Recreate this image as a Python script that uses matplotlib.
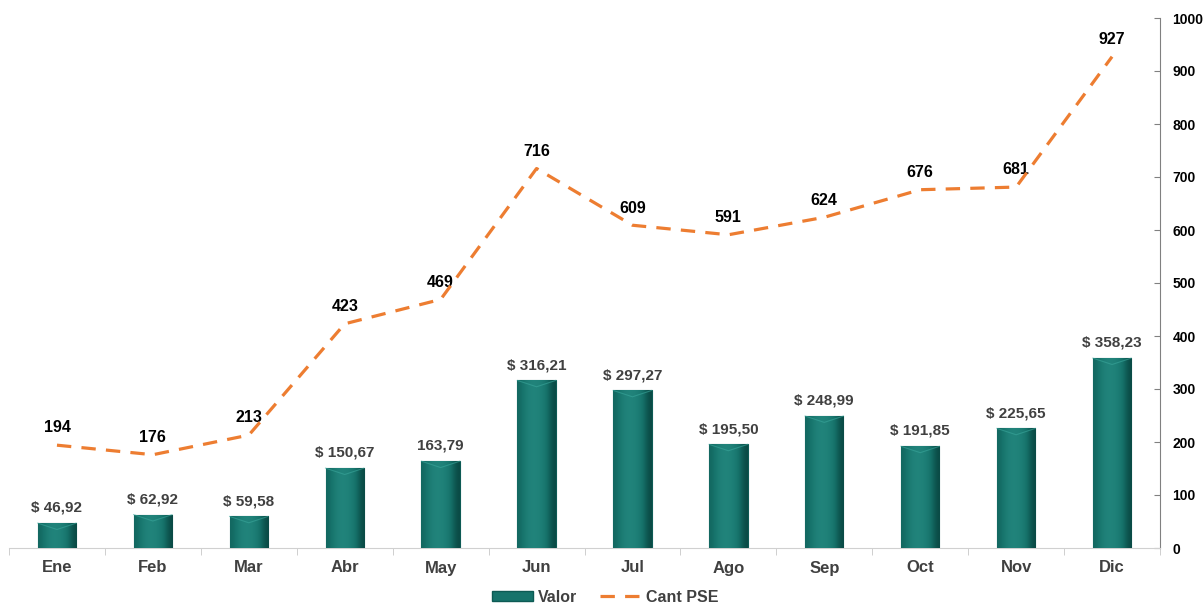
import numpy as np
import matplotlib.pyplot as plt
from matplotlib.patches import Patch
from matplotlib.lines import Line2D
from matplotlib.colors import LinearSegmentedColormap

plt.rcParams['font.family'] = ['Liberation Sans', 'DejaVu Sans']

meses = ["Ene", "Feb", "Mar", "Abr", "May", "Jun", "Jul", "Ago", "Sep", "Oct", "Nov", "Dic"]
valor = [46.92, 62.92, 59.58, 150.67, 163.79, 316.21, 297.27, 195.50, 248.99, 191.85, 225.65, 358.23]
valor_txt = ["$ 46,92", "$ 62,92", "$ 59,58", "$ 150,67", "163,79", "$ 316,21",
             "$ 297,27", "$ 195,50", "$ 248,99", "$ 191,85", "$ 225,65", "$ 358,23"]
cant_pse = [194, 176, 213, 423, 469, 716, 609, 591, 624, 676, 681, 927]

teal = "#16736b"
naranja = "#ED7D31"
gris = "#404040"

fig = plt.figure(figsize=(12.03, 6.04), dpi=100)
ax = fig.add_axes([9 / 1203, 56 / 604, 1151 / 1203, 530 / 604])

x = np.arange(len(meses))
bars = ax.bar(x, valor, width=0.40, color=teal, edgecolor="#0d5a54", linewidth=0.8, zorder=2)

# degradado horizontal dentro de cada barra
grad = np.array([[0.1, 0.4, 0.55, 0.55, 0.45, 0.2, -0.3]])
cmap = LinearSegmentedColormap.from_list("t", ["#0a4a45", teal, "#2a9188"])
for b in bars:
    x0, w, h = b.get_x(), b.get_width(), b.get_height()
    im = ax.imshow(grad, cmap=cmap, vmin=-0.3, vmax=0.8, aspect="auto",
                   extent=(x0, x0 + w, 0, h), zorder=3, interpolation="bicubic")
    im.set_clip_path(b)
    ax.plot([x0, x0 + w / 2, x0 + w], [h, h - 12, h], color="#3aa69b", lw=0.8, zorder=4, alpha=0.6)

ax.plot(x, cant_pse, color=naranja, lw=2.3, ls=(0, (4.5, 3.2)), zorder=5)

for i in range(len(meses)):
    ax.annotate(valor_txt[i], (x[i], valor[i]), xytext=(0, 6), textcoords="offset points",
                ha="center", va="bottom", fontsize=11, fontweight="bold", color=gris)
    ax.annotate(str(cant_pse[i]), (x[i], cant_pse[i]), xytext=(0, 7), textcoords="offset points",
                ha="center", va="bottom", fontsize=11.5, fontweight="bold", color="black")

ax.set_xlim(-0.5, len(meses) - 0.5)
ax.set_ylim(0, 1000)
ax.set_yticks(np.arange(0, 1001, 100))
ax.yaxis.tick_right()
ax.tick_params(axis="y", direction="in", length=4, color="#808080", labelsize=10,
               pad=9, labelcolor="black")
for lab in ax.get_yticklabels():
    lab.set_fontweight("bold")

ax.set_xticks(x)
ax.set_xticklabels(meses, fontsize=12, fontweight="bold", color=gris)
ax.set_xticks(np.arange(-0.5, len(meses)), minor=True)
ax.tick_params(axis="x", which="major", length=0, pad=9)
ax.tick_params(axis="x", which="minor", length=5, color="#c8c8c8")

for s in ["top", "left"]:
    ax.spines[s].set_visible(False)
ax.spines["bottom"].set_color("#d0d0d0")
ax.spines["right"].set_color("#808080")

handles = [Patch(facecolor=teal, edgecolor="#0d5a54", label="Valor"),
           Line2D([0], [0], color=naranja, lw=2.3, ls=(0, (4.5, 3.2)), label="Cant PSE")]
leg = fig.legend(handles=handles, loc="center", bbox_to_anchor=(605 / 1203, 7 / 604),
                 ncol=2, frameon=False, prop={"size": 11.5, "weight": "bold"},
                 handlelength=2.6, handleheight=0.6, columnspacing=1.4, handletextpad=0.3)
for t in leg.get_texts():
    t.set_color(gris)

fig.savefig("out.png", dpi=100)
